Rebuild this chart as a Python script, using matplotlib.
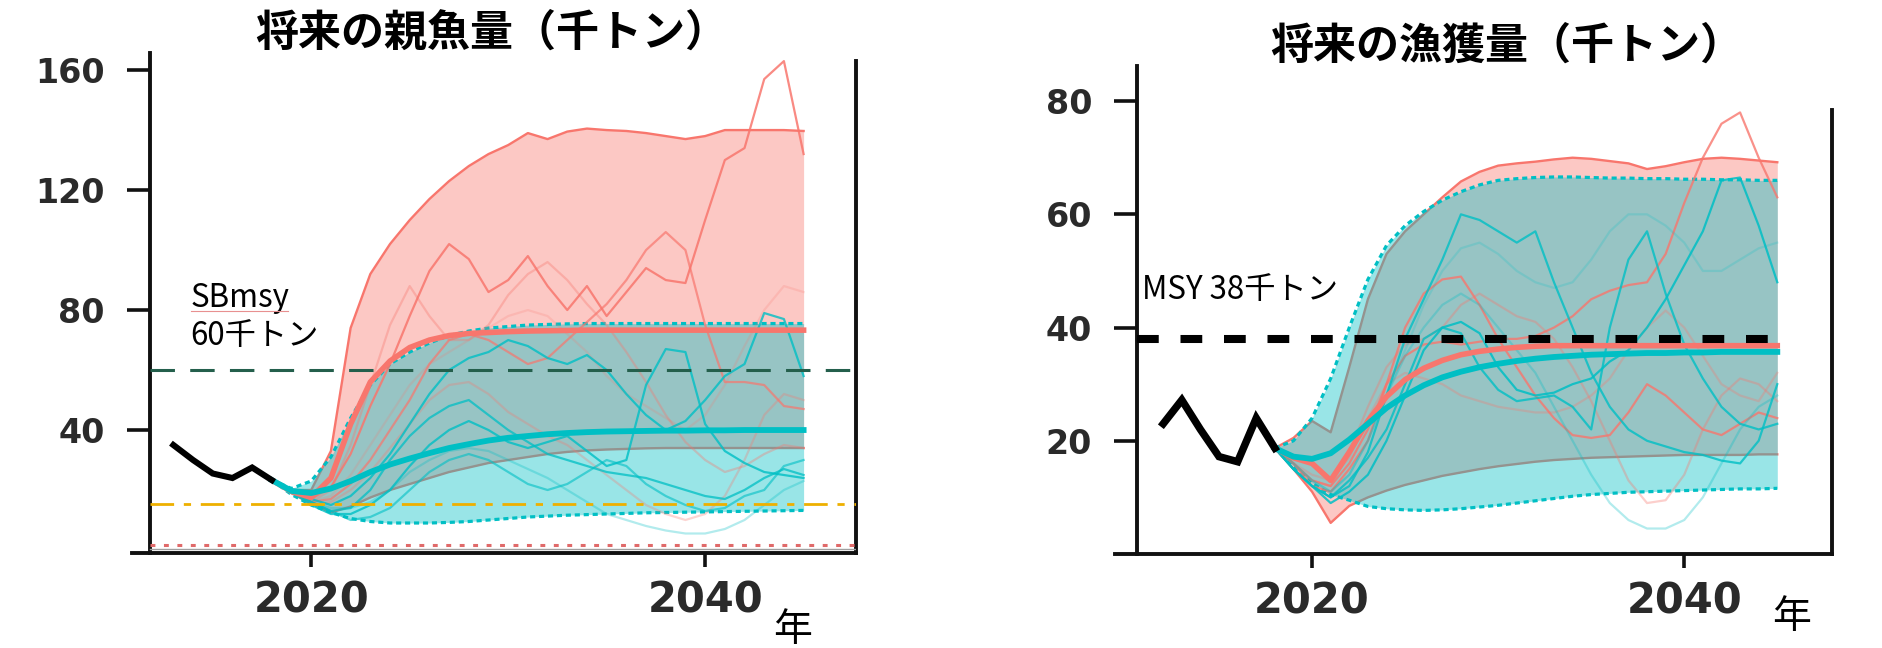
import matplotlib
matplotlib.use("Agg")
import matplotlib.pyplot as plt
import numpy as np

plt.rcParams['font.family'] = ['DejaVu Sans', 'Noto Sans CJK JP']

RED = '#F8766D'
TEAL = '#00BFC4'
JP = ['Noto Sans CJK JP', 'DejaVu Sans']

years = np.arange(2018, 2046)

# ---- spawning biomass (left) ----
sb_hist_years = [2013, 2014, 2015, 2016, 2017, 2018]
sb_hist = [35, 30, 25.5, 24, 27.5, 23.3]

sb_red_hi = [23.3, 20, 20, 33, 74, 92, 102, 110, 117, 123, 128, 132, 135, 139,
             137, 139.5, 140.5, 140, 139.7, 139, 138, 137, 138, 140, 140, 140, 140, 139.7]
sb_red_lo = [23.3, 19, 15.5, 12.5, 14.5, 17.5, 20, 22, 24, 26, 27.5, 29, 30, 31,
             32, 32.7, 33.2, 33.5, 33.7, 33.9, 34, 34, 34, 34, 34, 34, 34, 34]
sb_red_med = [23.3, 19.5, 17.5, 24, 42, 56, 63, 67.5, 70, 71.5, 72.2, 72.5, 72.8, 73,
              73.1, 73.2, 73.3, 73.3, 73.3, 73.3, 73.3, 73.3, 73.3, 73.3, 73.3, 73.3, 73.3, 73.3]
sb_teal_hi = [23.3, 20.5, 23, 31, 44, 55, 62, 66, 69, 71.5, 73, 74, 74.5, 75,
              75.2, 75.4, 75.5, 75.5, 75.5, 75.5, 75.5, 75.5, 75.5, 75.5, 75.5, 75.5, 75.5, 75.5]
sb_teal_lo = [23.3, 18.5, 15, 12.5, 10.5, 9.5, 9, 9, 9, 9.2, 9.5, 10, 10.5, 11,
              11.3, 11.6, 11.8, 12, 12.2, 12.4, 12.5, 12.6, 12.7, 12.8, 12.9, 13, 13.1, 13.2]
sb_teal_med = [23.3, 19.7, 19, 20.5, 23, 26, 28.5, 30.5, 32.3, 34, 35.3, 36.5, 37.4, 38,
               38.6, 39, 39.3, 39.5, 39.6, 39.7, 39.8, 39.8, 39.9, 39.9, 40, 40, 40, 40]

sb_red_runs = [
    [23.3, 19.5, 17, 21, 32, 48, 62, 78, 93, 102, 97, 86, 90, 98, 88, 80, 88, 78, 86, 94, 90, 89, 110, 130, 134, 157, 163, 132],
    [23.3, 19.5, 16, 17, 22, 30, 40, 50, 62, 70, 72, 70, 66, 62, 64, 70, 76, 82, 90, 100, 106, 100, 75, 56, 56, 55, 48, 47],
    [23.3, 19.5, 16, 20, 35, 55, 75, 88, 78, 70, 70, 75, 85, 92, 96, 90, 82, 75, 66, 56, 45, 36, 30, 26, 28, 32, 35, 34],
    [23.3, 19.5, 15, 16, 20, 26, 34, 42, 50, 55, 56, 52, 46, 42, 38, 35, 30, 25, 20, 15, 12, 10, 12, 18, 30, 45, 52, 50],
    [23.3, 19.5, 16, 18, 25, 35, 45, 55, 62, 66, 70, 74, 78, 80, 78, 72, 66, 58, 52, 48, 44, 40, 45, 55, 68, 80, 88, 86],
]
sb_red_alpha = [0.85, 0.7, 0.35, 0.3, 0.2]
sb_teal_runs = [
    [23.3, 19.5, 16, 13, 14, 20, 30, 38, 44, 48, 50, 45, 40, 36, 32, 30, 28, 26, 25, 24, 22, 20, 18, 17, 20, 24, 27, 25],
    [23.3, 19.5, 15, 12, 12, 15, 20, 28, 35, 40, 43, 40, 36, 34, 36, 38, 33, 28, 30, 55, 67, 66, 42, 33, 29, 26, 25, 24],
    [23.3, 19.5, 17, 15, 18, 24, 32, 42, 52, 60, 64, 66, 70, 68, 64, 62, 65, 60, 52, 45, 40, 43, 50, 58, 62, 79, 77, 58],
    [23.3, 19.5, 16, 13, 10, 11, 14, 20, 26, 30, 32, 30, 26, 22, 20, 22, 26, 30, 28, 22, 18, 15, 13, 14, 18, 20, 28, 30],
    [23.3, 19.5, 16, 14, 14, 16, 20, 26, 30, 33, 34, 33, 30, 27, 24, 20, 16, 12, 10, 8, 6.5, 5.5, 5.5, 7, 10, 15, 20, 23],
]
sb_teal_alpha = [0.75, 0.8, 0.8, 0.6, 0.3]

# ---- catch (right) ----
ct_hist_years = [2012, 2013, 2014, 2015, 2016, 2017, 2018]
ct_hist = [23, 27.2, 22, 17.2, 16.3, 24, 18.7]

ct_red_hi = [18.7, 20.5, 23.5, 21.5, 33, 45, 53, 57, 60, 63, 65.8, 67.5, 68.6, 69,
             69.3, 69.7, 70, 69.8, 69.4, 69, 68, 68.5, 69.2, 69.8, 70, 69.8, 69.5, 69.2]
ct_red_lo = [18.7, 15, 11, 5.5, 8.5, 10, 11.2, 12.2, 13, 13.8, 14.4, 15, 15.5, 15.9,
             16.3, 16.6, 16.8, 17, 17.1, 17.2, 17.3, 17.4, 17.5, 17.5, 17.5, 17.5, 17.6, 17.6]
ct_red_med = [18.7, 17, 16, 13, 18, 23.5, 27.8, 30.8, 32.8, 34.2, 35.2, 35.8, 36.2, 36.5,
              36.7, 36.8, 36.8, 36.8, 36.8, 36.8, 36.8, 36.8, 36.8, 36.8, 36.8, 36.8, 36.8, 36.8]
ct_teal_hi = [18.7, 20, 24, 31, 40, 48.5, 54.5, 58, 60.5, 62.5, 64, 65.2, 66, 66.3,
              66.5, 66.6, 66.6, 66.5, 66.4, 66.4, 66.3, 66.3, 66.2, 66.2, 66.1, 66.1, 66, 66]
ct_teal_lo = [18.7, 15.5, 12.5, 10.5, 9.5, 8.4, 8, 7.8, 7.7, 7.8, 8, 8.3, 8.6, 9,
              9.4, 9.8, 10.2, 10.5, 10.7, 10.9, 11, 11.1, 11.2, 11.3, 11.4, 11.5, 11.5, 11.6]
ct_teal_med = [18.7, 17.2, 16.8, 17.8, 20.2, 23, 25.8, 28, 29.8, 31.2, 32.2, 33, 33.6, 34.1,
               34.5, 34.8, 35, 35.2, 35.3, 35.4, 35.5, 35.5, 35.6, 35.6, 35.7, 35.7, 35.7, 35.7]

ct_red_runs = [
    [18.7, 16, 12, 11, 15, 20, 30, 40, 46, 48.5, 49, 44, 38, 33, 28, 24, 21, 20.5, 21, 25, 30, 28, 25, 22, 21, 23, 25, 24],
    [18.7, 16, 13, 12, 16, 22, 30, 35, 37, 37.5, 37, 37.5, 38, 38, 38.5, 40, 42, 45, 46.5, 47.5, 48, 53, 62, 70, 76, 78, 70, 63],
    [18.7, 16, 13, 12, 18, 26, 33, 37, 38, 40, 44, 46, 44, 42, 41, 38, 33, 27, 20, 13, 9, 9.5, 14, 22, 28, 31, 30, 27],
    [18.7, 16, 14, 13, 17, 24, 30, 32, 31, 30, 28, 27, 26, 25.5, 25, 25, 26, 28, 31, 36, 40, 43, 40, 35, 30, 28, 27, 32],
]
ct_red_alpha = [0.8, 0.8, 0.35, 0.3]
ct_teal_runs = [
    [18.7, 15, 12, 10, 12, 18, 28, 38, 45, 52, 60, 59, 57, 55, 57, 48, 40, 32, 26, 22, 20, 19, 18, 17.5, 16.5, 16, 20, 30],
    [18.7, 15, 12, 9, 11, 14, 20, 28, 36, 40, 41, 39, 33, 29, 28, 28.5, 30, 31, 34, 36, 40, 45, 51, 57, 66, 66.5, 58, 48],
    [18.7, 15, 12, 10, 13, 17, 22, 30, 38, 40, 39, 33, 29, 27, 27.5, 28, 26, 22, 40, 52, 57, 46, 37, 31, 26, 23, 22, 23],
    [18.7, 16, 13, 11, 14, 20, 28, 35, 40, 44, 46, 44, 40, 36, 32, 26, 20, 14, 9, 6, 4.5, 4.5, 6, 10, 16, 22, 26, 28],
    [18.7, 16, 13, 11, 14, 20, 28, 36, 44, 50, 54, 55, 53, 50, 48, 47, 48, 52, 57, 60, 60, 58, 55, 50, 50, 52, 54, 55],
]
ct_teal_alpha = [0.8, 0.85, 0.8, 0.3, 0.2]

SBMSY = 60
SBLIMIT = 15.3
SBBAN = 1.7
MSY = 38


def draw_panel(ax, hist_x, hist_y, red_lo, red_hi, red_med, teal_lo, teal_hi, teal_med,
               red_runs, red_alpha, teal_runs, teal_alpha, hist_lw):
    # red scenario band, edges sit under the teal band
    ax.fill_between(years, red_lo, red_hi, color=RED, alpha=0.4, lw=0, zorder=1)
    ax.plot(years, red_hi, color=RED, lw=1.7, zorder=1.5)
    ax.plot(years, red_lo, color=RED, lw=1.7, zorder=1.5)
    # teal scenario band
    ax.fill_between(years, teal_lo, teal_hi, color=TEAL, alpha=0.4, lw=0, zorder=2)
    for edge in (teal_hi, teal_lo):
        ax.plot(years, edge, color=TEAL, lw=2.3, ls=(0, (1.6, 1.2)), zorder=2.5)
    for run, a in zip(red_runs, red_alpha):
        ax.plot(years, run, color=RED, lw=1.6, alpha=a, zorder=3)
    for run, a in zip(teal_runs, teal_alpha):
        ax.plot(years, run, color=TEAL, lw=1.6, alpha=a, zorder=3)
    ax.plot(years, red_med, color=RED, lw=4.0, zorder=6)
    ax.plot(years, teal_med, color=TEAL, lw=4.2, zorder=6.5)
    ax.plot(hist_x, hist_y, color='black', lw=hist_lw, zorder=7,
            solid_joinstyle='miter')


def style_axes(ax, xlim, ylim, left_at, right_top, yticks):
    ax.set_xlim(*xlim)
    ax.set_ylim(*ylim)
    ax.spines['top'].set_visible(False)
    ax.spines['left'].set_position(('data', left_at))
    for s in ('left', 'bottom', 'right'):
        ax.spines[s].set_linewidth(2.8)
        ax.spines[s].set_color('#111111')
    ax.spines['left'].set_bounds(ylim[0], ylim[1])
    ax.spines['right'].set_bounds(ylim[0], right_top)
    ax.set_yticks(yticks)
    ax.set_yticklabels([str(v) for v in yticks])
    ax.set_xticks([2020, 2040])
    ax.tick_params(axis='y', direction='out', length=16.5, width=2.6, pad=16,
                   labelsize=24, labelcolor='#2a2a2a', color='#111111')
    ax.tick_params(axis='x', direction='out', length=10, width=2.6, pad=9,
                   labelsize=30, labelcolor='#2a2a2a', color='#111111')
    for lab in ax.get_xticklabels() + ax.get_yticklabels():
        lab.set_fontweight('bold')
    ax.patch.set_alpha(0)


fig = plt.figure(figsize=(18.83, 6.48), dpi=100)

# left: spawning biomass
ax1 = fig.add_axes([132 / 1883, 1 - 553 / 648, 724 / 1883, 500 / 648])
draw_panel(ax1, sb_hist_years, sb_hist, sb_red_lo, sb_red_hi, sb_red_med,
           sb_teal_lo, sb_teal_hi, sb_teal_med, sb_red_runs, sb_red_alpha,
           sb_teal_runs, sb_teal_alpha, 4.4)
x0, x1 = 2010.9, 2047.66
ax1.plot([2011.8, x1], [SBMSY, SBMSY], color='#245f4c', lw=2.2,
         ls=(0, (8, 5)), zorder=5)
ax1.plot([2011.8, x1], [SBLIMIT, SBLIMIT], color='#eeb000', lw=2.0,
         ls=(0, (8.5, 3.5, 2.6, 3.5)), zorder=5)
ax1.plot([2011.8, x1], [SBBAN, SBBAN], color='#e06a6a', lw=2.2,
         ls=(0, (1.6, 2.8)), zorder=5)
ax1.plot([2011.8, x1], [0.3, 0.3], color='#a0a0a0', lw=1.0, zorder=4)
style_axes(ax1, (x0, x1), (-1, 165.7), 2011.8, 163, [40, 80, 120, 160])
ax1.text(2013.86, 81.1, 'SBmsy', fontsize=22.5, family=JP, va='baseline', ha='left')
ax1.plot([2013.9, 2018.8], [79.6, 79.6], color='#e89090', lw=0.8, zorder=8)
ax1.text(2013.86, 68.3, '60千トン', fontsize=22.5, family=JP, va='baseline', ha='left')

# right: catch
ax2 = fig.add_axes([1115 / 1883, 1 - 554 / 648, 717 / 1883, 488 / 648])
draw_panel(ax2, ct_hist_years, ct_hist, ct_red_lo, ct_red_hi, ct_red_med,
           ct_teal_lo, ct_teal_hi, ct_teal_med, ct_red_runs, ct_red_alpha,
           ct_teal_runs, ct_teal_alpha, 5.4)
ax2.plot([2010.6, 2045.4], [MSY, MSY], color='black', lw=5.8,
         ls=(0, (2.7, 2.7)), zorder=8)
style_axes(ax2, (2009.41, 2047.94), (0, 86.2), 2010.6, 78.4, [20, 40, 60, 80])
ax2.text(2010.86, 45.0, 'MSY 38千トン', fontsize=22.5, family=JP, va='baseline', ha='left')

fig.text(492 / 1883, 1 - 33 / 648, '将来の親魚量（千トン）', fontsize=31,
         fontweight='bold', family=JP, ha='center', va='center')
fig.text(1507 / 1883, 1 - 46 / 648, '将来の漁獲量（千トン）', fontsize=31,
         fontweight='bold', family=JP, ha='center', va='center')
fig.text(793 / 1883, 1 - 630 / 648, '年', fontsize=28, family=JP, ha='center', va='center')
fig.text(1792 / 1883, 1 - 617 / 648, '年', fontsize=28, family=JP, ha='center', va='center')

fig.savefig('out.png', dpi=100, facecolor='white')
